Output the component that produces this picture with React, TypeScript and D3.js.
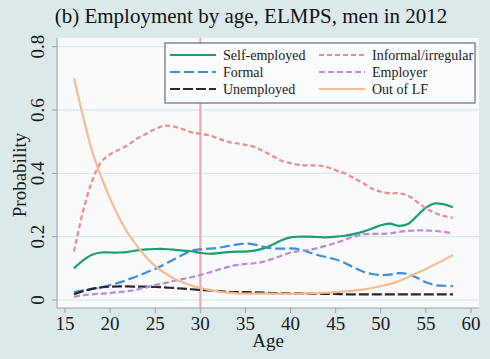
import React from 'react';
import * as d3 from 'd3';

const ages = d3.range(16, 59);

// one value per year of age (16..58)
const selfEmployed = [
  0.10, 0.125, 0.143, 0.15, 0.15, 0.15, 0.152, 0.157, 0.16, 0.161, 0.161, 0.159, 0.156, 0.154, 0.149,
  0.146, 0.148, 0.151, 0.153, 0.153, 0.156, 0.163, 0.175, 0.189, 0.198, 0.2, 0.2, 0.199, 0.198, 0.2,
  0.203, 0.208, 0.215, 0.225, 0.236, 0.241, 0.234, 0.24, 0.265, 0.292, 0.305, 0.302, 0.293,
];
const informal = [
  0.153, 0.28, 0.375, 0.435, 0.46, 0.475, 0.49, 0.51, 0.525, 0.54, 0.55, 0.548, 0.54, 0.53, 0.525,
  0.52, 0.51, 0.5, 0.495, 0.49, 0.483, 0.47, 0.455, 0.44, 0.432, 0.427, 0.425, 0.425, 0.42, 0.41,
  0.4, 0.385, 0.37, 0.352, 0.342, 0.337, 0.337, 0.33, 0.31, 0.29, 0.275, 0.265, 0.26,
];
const formal = [
  0.025, 0.03, 0.035, 0.04, 0.047, 0.055, 0.065, 0.075, 0.087, 0.098, 0.112, 0.127, 0.142, 0.155, 0.16,
  0.162, 0.165, 0.17, 0.175, 0.178, 0.175, 0.168, 0.163, 0.162, 0.163, 0.16, 0.151, 0.142, 0.135, 0.128,
  0.117, 0.103, 0.09, 0.082, 0.079, 0.08, 0.085, 0.082, 0.07, 0.056, 0.047, 0.045, 0.044,
];
const employer = [
  0.01, 0.015, 0.018, 0.02, 0.022, 0.025, 0.028, 0.033, 0.04, 0.047, 0.053, 0.06, 0.066, 0.072, 0.079,
  0.087, 0.096, 0.104, 0.11, 0.114, 0.116, 0.121, 0.13, 0.14, 0.15, 0.155, 0.158, 0.164, 0.172, 0.18,
  0.19, 0.2, 0.207, 0.209, 0.209, 0.21, 0.215, 0.218, 0.22, 0.22, 0.218, 0.215, 0.21,
];
const unemployed = [
  0.018, 0.028, 0.035, 0.04, 0.042, 0.043, 0.043, 0.042, 0.042, 0.041, 0.04, 0.038, 0.036, 0.034, 0.032,
  0.03, 0.028, 0.026, 0.025, 0.025, 0.024, 0.023, 0.022, 0.022, 0.021, 0.021, 0.02, 0.02, 0.019, 0.019,
  0.018, 0.018, 0.018, 0.018, 0.018, 0.018, 0.018, 0.018, 0.018, 0.018, 0.018, 0.018, 0.018,
];
const outOfLF = [
  0.70, 0.58, 0.47, 0.39, 0.32, 0.26, 0.21, 0.17, 0.135, 0.107, 0.086, 0.069, 0.056, 0.046, 0.038,
  0.032, 0.027, 0.023, 0.021, 0.02, 0.02, 0.02, 0.02, 0.02, 0.02, 0.02, 0.021, 0.022, 0.023, 0.025,
  0.027, 0.03, 0.033, 0.038, 0.044, 0.05, 0.06, 0.072, 0.085, 0.098, 0.112, 0.127, 0.142,
];

const xTicks = [15, 20, 25, 30, 35, 40, 45, 50, 55, 60];
const yTicks = [0, 0.2, 0.4, 0.6, 0.8];
const cutoffAge = 30;

const series = [
  { name: 'Self-employed', values: selfEmployed, color: '#1e9e6e', dash: '' },
  { name: 'Formal', values: formal, color: '#3b8ed8', dash: '10,4' },
  { name: 'Unemployed', values: unemployed, color: '#262a2e', dash: '10,3' },
  { name: 'Informal/irregular', values: informal, color: '#f08a86', dash: '5,3' },
  { name: 'Employer', values: employer, color: '#b88ad8', dash: '6,3' },
  { name: 'Out of LF', values: outOfLF, color: '#f8bb90', dash: '' },
];

const W = 490;
const H = 359;
const txt: React.CSSProperties = { fontFamily: "'Liberation Serif', 'DejaVu Serif', serif" };

const App: React.FC = () => {
  const x = d3.scaleLinear().domain([15, 60]).range([65, 471]);
  const y = d3.scaleLinear().domain([0, 0.8]).range([300, 46.7]);
  const plot = { left: 57, right: 479, top: 38, bottom: 308 };

  const line = d3.line<number>()
    .x((_, i) => x(ages[i]))
    .y(d => y(d))
    .curve(d3.curveCatmullRom);

  // legend: two columns, three rows
  const legend = { x: 165, y: 43, w: 310, h: 60 };
  const legendPos = (i: number) => {
    const col = Math.floor(i / 3);
    const row = i % 3;
    return { lx: col === 0 ? 170 : 319, ly: 55 + row * 17 };
  };

  return (
    <svg width={W} height={H} style={{ position: 'absolute', left: 0, top: 0 }}>
      <rect x={0} y={0} width={W} height={H} fill="#dce9eb" />
      <rect x={plot.left} y={plot.top} width={plot.right - plot.left} height={plot.bottom - plot.top} fill="#f8fafc" />

      {yTicks.map(t => (
        <line key={t} x1={plot.left} x2={plot.right} y1={y(t)} y2={y(t)} stroke="#d3e3ea" strokeWidth={1} />
      ))}

      <line x1={plot.left} x2={plot.left} y1={plot.top} y2={plot.bottom} stroke="#8ea0ab" strokeWidth={1} />
      <line x1={plot.left} x2={plot.right} y1={plot.bottom} y2={plot.bottom} stroke="#8ea0ab" strokeWidth={1} />
      {yTicks.map(t => (
        <g key={t}>
          <line x1={plot.left - 5} x2={plot.left} y1={y(t)} y2={y(t)} stroke="#8ea0ab" />
          <text
            transform={`translate(44,${y(t)}) rotate(-90)`}
            textAnchor="middle"
            style={txt}
            fontSize={19}
            fill="#1a1a1a"
          >
            {t === 0 ? '0' : t.toFixed(1)}
          </text>
        </g>
      ))}
      {xTicks.map(t => (
        <g key={t}>
          <line x1={x(t)} x2={x(t)} y1={plot.bottom} y2={plot.bottom + 5} stroke="#8ea0ab" />
          <text x={x(t)} y={330} textAnchor="middle" style={txt} fontSize={19} fill="#1a1a1a">
            {t}
          </text>
        </g>
      ))}

      <line x1={x(cutoffAge)} x2={x(cutoffAge)} y1={plot.top} y2={plot.bottom} stroke="#f2a3ab" strokeWidth={2} />

      {series.map(s => (
        <path
          key={s.name}
          d={line(s.values) ?? ''}
          fill="none"
          stroke={s.color}
          strokeWidth={2.2}
          strokeDasharray={s.dash || undefined}
        />
      ))}

      <rect x={legend.x} y={legend.y} width={legend.w} height={legend.h} fill="#fbfcfd" stroke="#5f6f78" strokeWidth={1.2} />
      {series.map((s, i) => {
        const { lx, ly } = legendPos(i);
        return (
          <g key={s.name}>
            <line x1={lx} x2={lx + 46} y1={ly} y2={ly} stroke={s.color} strokeWidth={2.2} strokeDasharray={s.dash || undefined} />
            <text x={lx + 53} y={ly + 5} style={txt} fontSize={14} fill="#1a1a1a">
              {s.name}
            </text>
          </g>
        );
      })}

      <text x={251} y={23} textAnchor="middle" style={txt} fontSize={21} fill="#111">
        (b) Employment by age, ELMPS, men in 2012
      </text>
      <text transform="translate(26,175) rotate(-90)" textAnchor="middle" style={txt} fontSize={19} fill="#1a1a1a">
        Probability
      </text>
      <text x={268} y={347} textAnchor="middle" style={txt} fontSize={19} fill="#1a1a1a">
        Age
      </text>
    </svg>
  );
};

export default App;
